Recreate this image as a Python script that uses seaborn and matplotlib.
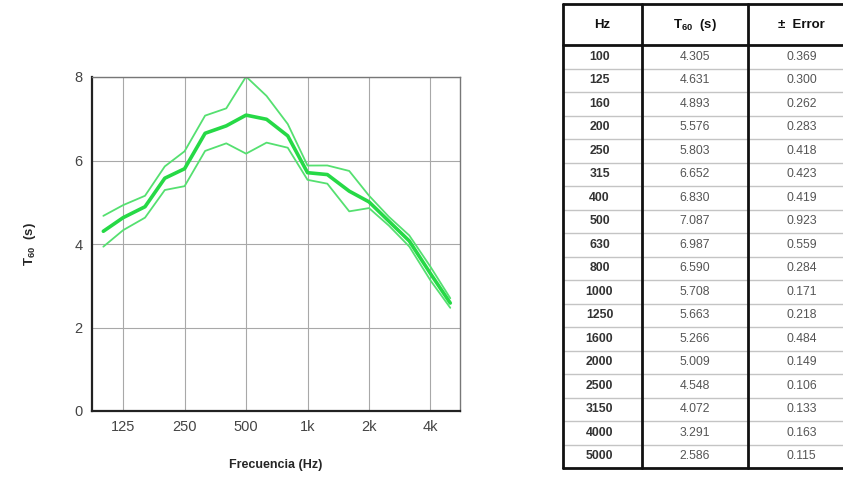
import numpy as np
import pandas as pd
import matplotlib.pyplot as plt
import matplotlib.ticker as mticker
import seaborn as sns

# third-octave bands and measured reverberation time
freqs = [100, 125, 160, 200, 250, 315, 400, 500, 630, 800,
         1000, 1250, 1600, 2000, 2500, 3150, 4000, 5000]
t60 = [4.305, 4.631, 4.893, 5.576, 5.803, 6.652, 6.830, 7.087, 6.987, 6.590,
       5.708, 5.663, 5.266, 5.009, 4.548, 4.072, 3.291, 2.586]
err = [0.369, 0.300, 0.262, 0.283, 0.418, 0.423, 0.419, 0.923, 0.559, 0.284,
       0.171, 0.218, 0.484, 0.149, 0.106, 0.133, 0.163, 0.115]

major_ticks = [125, 250, 500, 1000, 2000, 4000]
major_labels = ["125", "250", "500", "1k", "2k", "4k"]
y_ticks = [0, 2, 4, 6, 8]

sns.set_style("white")
plt.rcParams['font.family'] = ['Liberation Sans', 'DejaVu Sans']
plt.rcParams['mathtext.fontset'] = 'custom'
plt.rcParams['mathtext.rm'] = 'Liberation Sans'
plt.rcParams['mathtext.bf'] = 'Liberation Sans:bold'

df = pd.DataFrame({"Hz": freqs, "T60": t60, "err": err})
df["upper"] = df["T60"] + df["err"]
df["lower"] = df["T60"] - df["err"]

fig = plt.figure(figsize=(8.43, 4.82), dpi=100)
ax = fig.add_axes([92 / 843, 71 / 482, 368 / 843, 334 / 482])

sns.lineplot(data=df, x="Hz", y="upper", ax=ax, color="#55e070", linewidth=1.3)
sns.lineplot(data=df, x="Hz", y="lower", ax=ax, color="#55e070", linewidth=1.3)
sns.lineplot(data=df, x="Hz", y="T60", ax=ax, color="#26d946", linewidth=2.6)

ax.set_xscale("log", base=2)
ax.set_xlim(88, 5580)
ax.set_ylim(0, 8)
ax.xaxis.set_major_locator(mticker.FixedLocator(major_ticks))
ax.xaxis.set_major_formatter(mticker.FixedFormatter(major_labels))
ax.xaxis.set_minor_locator(mticker.FixedLocator([f for f in freqs if f not in major_ticks]))
ax.xaxis.set_minor_formatter(mticker.NullFormatter())
ax.set_yticks(y_ticks)
ax.grid(True, which="major", color="#a8a8a8", linewidth=0.8)
ax.tick_params(axis="x", which="major", direction="inout", length=7, width=1,
               color="#333333", labelsize=10.5, labelcolor="#444444", pad=3)
ax.tick_params(axis="x", which="minor", direction="inout", length=3, width=0.8,
               color="#555555")
ax.tick_params(axis="y", which="major", direction="out", length=4, width=1,
               color="#333333", labelsize=10.5, labelcolor="#444444", pad=3)
for side in ["top", "right"]:
    ax.spines[side].set_color("#777777")
    ax.spines[side].set_linewidth(1.0)
for side in ["bottom", "left"]:
    ax.spines[side].set_color("#222222")
    ax.spines[side].set_linewidth(1.6)

ax.set_xlabel("Frecuencia (Hz)", fontsize=9, fontweight="bold", labelpad=18)
ax.set_ylabel(r"$\mathbf{T_{60}}$  (s)", fontsize=9.5, fontweight="bold", labelpad=26)

# table on the right
tax = fig.add_axes([563 / 843, 14 / 482, 292 / 843, 464 / 482])
col_edges = [0, 79, 185, 292]
head_h = 1.75
n = len(freqs)
tax.set_xlim(0, 292)
tax.set_ylim(head_h + n, 0)
tax.axis("off")

headers = ["Hz", r"T$_{\mathbf{60}}$  (s)", "±  Error"]
for j, h in enumerate(headers):
    cx = (col_edges[j] + col_edges[j + 1]) / 2
    tax.text(cx, head_h / 2, h, ha="center", va="center", fontsize=9.5,
             fontweight="bold", color="#111111")

for i in range(n):
    cy = head_h + i + 0.5
    tax.text((col_edges[0] + col_edges[1]) / 2 - 3, cy, str(freqs[i]), ha="center",
             va="center", fontsize=8.8, fontweight="bold", color="#333333")
    tax.text((col_edges[1] + col_edges[2]) / 2, cy, f"{t60[i]:.3f}", ha="center",
             va="center", fontsize=8.8, color="#555555")
    tax.text((col_edges[2] + col_edges[3]) / 2, cy, f"{err[i]:.3f}", ha="center",
             va="center", fontsize=8.8, color="#555555")
    if i > 0:
        tax.plot([0, 292], [head_h + i, head_h + i], color="#c4c4c4", linewidth=1,
                 clip_on=False)

tax.plot([0, 292], [head_h, head_h], color="#111111", linewidth=2, clip_on=False)
tax.plot([0, 292], [0, 0], color="#111111", linewidth=2, clip_on=False)
tax.plot([0, 292], [head_h + n, head_h + n], color="#111111", linewidth=2, clip_on=False)
for x in col_edges:
    tax.plot([x, x], [0, head_h + n], color="#111111", linewidth=2, clip_on=False)

fig.savefig("out.png", dpi=100)
